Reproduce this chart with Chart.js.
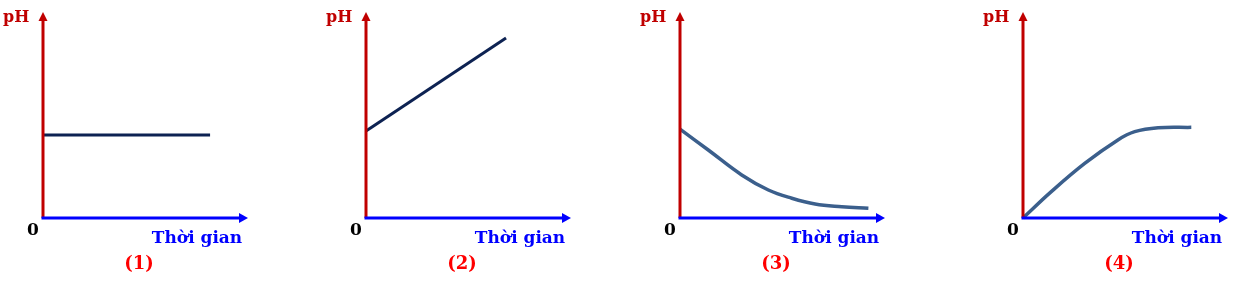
<!DOCTYPE html>
<html>
<head>
<meta charset="utf-8">
<script src="https://cdn.jsdelivr.net/npm/chart.js@4/dist/chart.umd.min.js"></script>
<style>
  body { margin: 0; background: #fff; width: 1237px; height: 282px; overflow: hidden; position: relative; }
  .box { position: absolute; top: 0; width: 260px; height: 282px; }
</style>
</head>
<body>
<div class="box" style="left:-2px"><canvas id="chart1"></canvas></div>
<div class="box" style="left:321px"><canvas id="chart2"></canvas></div>
<div class="box" style="left:635px"><canvas id="chart3"></canvas></div>
<div class="box" style="left:978px"><canvas id="chart4"></canvas></div>
<script>
// data tiap grafik (sumbu 0..10)
var x1 = [0, 8.15];
var y1 = [4.03, 4.03];

var x2 = [0, 6.83];
var y2 = [4.22, 8.74];

var x3 = [0, 1.38, 3.01, 4.31, 5.45, 6.59, 7.89, 9.19];
var y3 = [4.31, 3.30, 2.09, 1.36, 0.96, 0.68, 0.55, 0.47];

var x4 = [0, 1.38, 3.01, 4.63, 5.45, 6.59, 8.21];
var y4 = [0, 1.28, 2.65, 3.79, 4.19, 4.38, 4.40];

var labelGrafik = ['(1)', '(2)', '(3)', '(4)'];
var judulY = 'pH';
var judulX = 'Thời gian';
var titikNol = '0';

// gabungkan x dan y jadi titik
function buatTitik(xs, ys) {
    var hasil = [];
    for (var i = 0; i < xs.length; i++) {
        hasil.push({ x: xs[i], y: ys[i] });
    }
    return hasil;
}

// plugin untuk gambar sumbu panah dan tulisan
function pluginSumbu(label) {
    return {
        id: 'sumbu',
        afterDatasetsDraw: function (chart) {
            var ctx = chart.ctx;
            var a = chart.chartArea;
            var ox = a.left, oy = a.bottom, ex = a.right, ty = a.top;
            ctx.save();

            // sumbu y merah
            ctx.strokeStyle = '#c00000';
            ctx.lineWidth = 3;
            ctx.beginPath();
            ctx.moveTo(ox, oy);
            ctx.lineTo(ox, ty + 7);
            ctx.stroke();
            ctx.fillStyle = '#c00000';
            ctx.beginPath();
            ctx.moveTo(ox, ty);
            ctx.lineTo(ox - 4.5, ty + 9);
            ctx.lineTo(ox + 4.5, ty + 9);
            ctx.closePath();
            ctx.fill();

            // sumbu x biru
            ctx.strokeStyle = '#0000ff';
            ctx.beginPath();
            ctx.moveTo(ox - 1.5, oy);
            ctx.lineTo(ex - 7, oy);
            ctx.stroke();
            ctx.fillStyle = '#0000ff';
            ctx.beginPath();
            ctx.moveTo(ex, oy);
            ctx.lineTo(ex - 9, oy - 5);
            ctx.lineTo(ex - 9, oy + 5);
            ctx.closePath();
            ctx.fill();

            // tulisan
            ctx.font = 'bold 16px "DejaVu Serif"';
            ctx.fillStyle = '#c00000';
            ctx.textAlign = 'left';
            ctx.fillText(judulY, ox - 40, 22);

            ctx.font = 'bold 17px "DejaVu Serif"';
            ctx.fillStyle = '#000';
            ctx.textAlign = 'center';
            ctx.fillText(titikNol, ox - 10, 235);

            ctx.font = 'bold 17px "DejaVu Serif"';
            ctx.fillStyle = '#0000ff';
            ctx.fillText(judulX, ox + 154, 243);

            ctx.font = 'bold 18px "DejaVu Serif"';
            ctx.fillStyle = '#ff0000';
            ctx.fillText(label, ox + 96, 269);
            ctx.restore();
        }
    };
}

// bikin satu grafik
function buatGrafik(id, xs, ys, warna, lengkung, label) {
    var ctx = document.getElementById(id).getContext('2d');
    var myChart = new Chart(ctx, {
        type: 'line',
        data: {
            datasets: [{
                data: buatTitik(xs, ys),
                borderColor: warna,
                borderWidth: lengkung ? 3.5 : 3,
                pointRadius: 0,
                tension: lengkung ? 0.4 : 0,
                clip: false
            }]
        },
        options: {
            responsive: true,
            maintainAspectRatio: false,
            animation: false,
            layout: { padding: { left: 45, right: 10, top: 12, bottom: 64 } },
            plugins: { legend: { display: false }, tooltip: { enabled: false } },
            scales: {
                x: { type: 'linear', min: 0, max: 10, display: false },
                y: { min: 0, max: 10, display: false }
            }
        },
        plugins: [pluginSumbu(label)]
    });
}

buatGrafik('chart1', x1, y1, '#0d2252', false, labelGrafik[0]);
buatGrafik('chart2', x2, y2, '#0d2252', false, labelGrafik[1]);
buatGrafik('chart3', x3, y3, '#3b5f8c', true, labelGrafik[2]);
buatGrafik('chart4', x4, y4, '#3b5f8c', true, labelGrafik[3]);
</script>
</body>
</html>
